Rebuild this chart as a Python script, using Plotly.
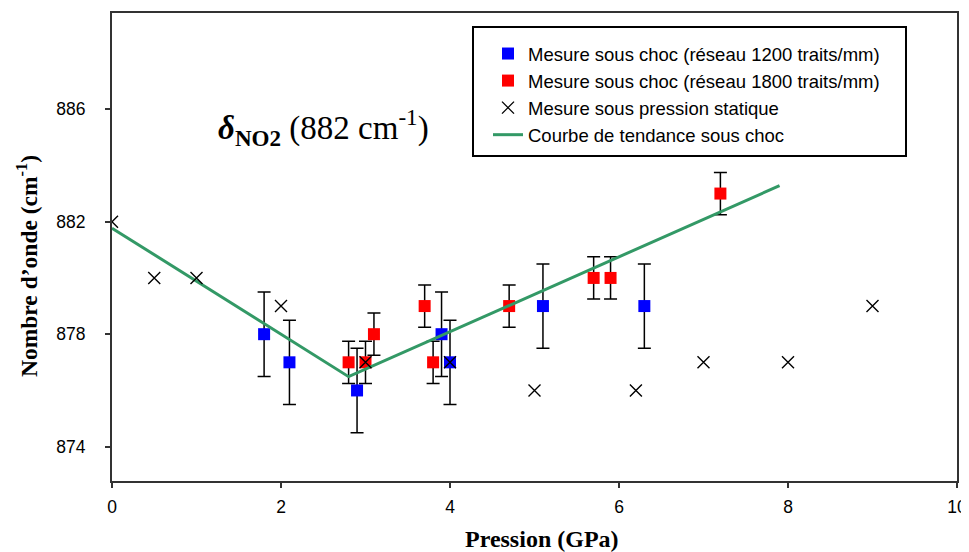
import plotly.graph_objects as go

# ---- data ----
p_1200 = [1.8, 2.1, 2.9, 3.9, 4.0, 5.1, 6.3]
w_1200 = [878, 877, 876, 878, 877, 879, 879]
e_1200 = [1.5, 1.5, 1.5, 1.5, 1.5, 1.5, 1.5]

p_1800 = [2.8, 3.0, 3.1, 3.7, 3.8, 4.7, 5.7, 5.9, 7.2]
w_1800 = [877, 877, 878, 879, 877, 879, 880, 880, 883]
e_1800 = [0.75, 0.75, 0.75, 0.75, 0.75, 0.75, 0.75, 0.75, 0.75]

p_static = [0, 0.5, 1.0, 2.0, 3.0, 4.0, 5.0, 6.2, 7.0, 8.0, 9.0]
w_static = [882, 880, 880, 879, 877, 877, 876, 876, 877, 877, 879]

p_trend = [0, 2.8, 7.9]
w_trend = [881.77, 876.49, 883.28]

x_ticks = [0, 2, 4, 6, 8, 10]
y_ticks = [874, 878, 882, 886]

SANS = "Liberation Sans, Arial, sans-serif"
SERIF = "Liberation Serif, Times New Roman, serif"

OFF = 8  # page body margin offset
W, H = 969 - OFF, 552 - OFF
# plot area in page pixels: x 112..957, y 13..481
L = 112 - OFF
T = 13 - OFF
R = W - (957 - OFF)
B = H - (481 - OFF)
pw, ph = W - L - R, H - T - B


def px_x(p):
    return (p - OFF - L) / pw


def px_y(p):
    return 1 - (p - OFF - T) / ph


fig = go.Figure()

fig.add_trace(go.Scatter(
    x=p_1200, y=w_1200, mode="markers",
    name="Mesure sous choc (réseau 1200 traits/mm)",
    marker=dict(symbol="square", size=12, color="#0000FF", line=dict(width=0)),
    error_y=dict(type="data", array=e_1200, color="black", thickness=1.5, width=6.5),
    legendrank=1,
))
fig.add_trace(go.Scatter(
    x=p_1800, y=w_1800, mode="markers",
    name="Mesure sous choc (réseau 1800 traits/mm)",
    marker=dict(symbol="square", size=12, color="#FF0000", line=dict(width=0)),
    error_y=dict(type="data", array=e_1800, color="black", thickness=1.5, width=6.5),
    legendrank=2,
))
fig.add_trace(go.Scatter(
    x=p_trend, y=w_trend, mode="lines",
    name="Courbe de tendance sous choc",
    line=dict(color="#339966", width=3),
    legendrank=4,
))
fig.add_trace(go.Scatter(
    x=p_static, y=w_static, mode="markers",
    name="Mesure sous pression statique",
    marker=dict(symbol="x-thin", size=12, color="black", line=dict(width=1.4, color="black")),
    legendrank=3,
))

fig.update_layout(
    width=W, height=H,
    margin=dict(l=L, r=R, t=T, b=B, pad=0, autoexpand=False),
    paper_bgcolor="white", plot_bgcolor="white",
    font=dict(family=SANS, size=17.5, color="black"),
    showlegend=True,
    legend=dict(
        x=px_x(488), y=px_y(35), xanchor="left", yanchor="top",
        bgcolor="rgba(0,0,0,0)", borderwidth=0, itemwidth=30,
        font=dict(family=SANS, size=18.5, color="black"),
        traceorder="normal",
    ),
    xaxis=dict(
        range=[0, 10], tickvals=x_ticks, ticktext=[str(v) for v in x_ticks],
        showgrid=False, zeroline=False,
        showline=True, linecolor="#333333", linewidth=2, mirror=True,
        ticks="outside", ticklen=5, tickwidth=1.5, tickcolor="#333333",
        tickfont=dict(family=SANS, size=17.5, color="black"),
        ticklabelstandoff=4, ticklabeloverflow="allow",
    ),
    yaxis=dict(
        range=[872.78, 889.42], tickvals=y_ticks, ticktext=[str(v) for v in y_ticks],
        showgrid=False, zeroline=False,
        showline=True, linecolor="#333333", linewidth=2, mirror=True,
        ticks="outside", ticklen=5, tickwidth=1.5, tickcolor="#333333",
        tickfont=dict(family=SANS, size=17.5, color="black"),
        ticklabelstandoff=16,
    ),
    shapes=[dict(
        type="rect", xref="paper", yref="paper",
        x0=px_x(473), x1=px_x(906), y0=px_y(156), y1=px_y(27),
        line=dict(color="black", width=2), fillcolor="rgba(0,0,0,0)", layer="above",
    )],
    annotations=[
        dict(text="<b>Pression (GPa)</b>", xref="paper", yref="paper",
             x=px_x(542), y=px_y(539), xanchor="center", yanchor="middle",
             showarrow=False, font=dict(family=SERIF, size=24, color="black")),
        dict(text="<b>Nombre d\u2019onde (cm<sup>-1</sup>)</b>", xref="paper", yref="paper",
             x=px_x(27), y=px_y(266), xanchor="center", yanchor="middle", textangle=-90,
             showarrow=False, font=dict(family=SERIF, size=23.5, color="black")),
        dict(text="<b><i>\u03b4</i></b><sub><b>NO2</b></sub> (882 cm<sup>-1</sup>)",
             xref="x", yref="y", x=2.5, y=885.35, xanchor="center", yanchor="middle",
             showarrow=False, font=dict(family=SERIF, size=33, color="black")),
    ],
)

fig.write_html("out.html")
